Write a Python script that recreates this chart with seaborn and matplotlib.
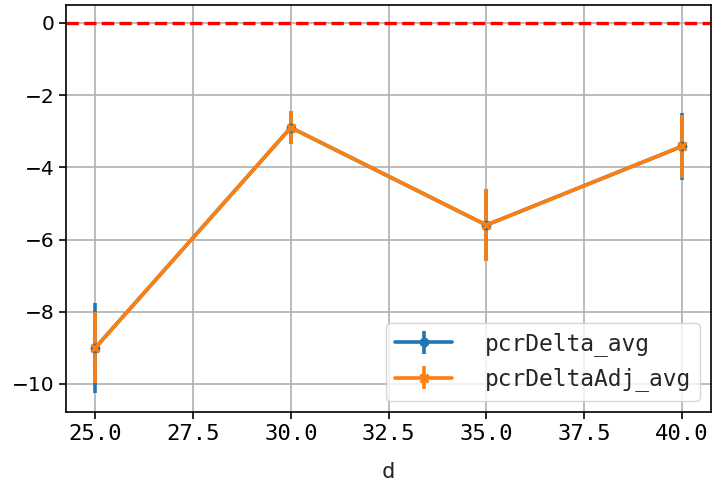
import numpy as np
import seaborn as sns
import matplotlib.pyplot as plt
import pandas as pd

d = [25, 30, 35, 40]
pcr_delta_avg = [-9.0, -2.9, -5.6, -3.42]
pcr_delta_err = [1.25, 0.45, 1.0, 0.92]
pcr_delta_adj_avg = [-9.0, -2.9, -5.6, -3.42]
pcr_delta_adj_err = [0.98, 0.45, 1.0, 0.88]

sns.set_theme(style='ticks', rc={'axes.grid': True, 'grid.color': '#b0b0b0',
                                 'axes.edgecolor': 'black', 'xtick.color': 'black',
                                 'ytick.color': 'black'})
plt.rcParams['font.family'] = ['DejaVu Sans Mono', 'DejaVu Sans']

df = pd.DataFrame({'d': d, 'pcrDelta_avg': pcr_delta_avg, 'pcrDeltaAdj_avg': pcr_delta_adj_avg})
colors = sns.color_palette('tab10')

fig, ax = plt.subplots(figsize=(7.17, 4.82), dpi=100)
fig.subplots_adjust(left=0.092, right=0.992, top=0.99, bottom=0.145)

ax.errorbar(df['d'], df['pcrDelta_avg'], yerr=pcr_delta_err, color=colors[0],
            marker='o', ms=6, lw=2.6, elinewidth=2.6, label='pcrDelta_avg')
ax.errorbar(df['d'], df['pcrDeltaAdj_avg'], yerr=pcr_delta_adj_err, color=colors[1],
            marker='x', ms=6, mew=2.2, lw=2.6, elinewidth=2.6, label='pcrDeltaAdj_avg')
ax.axhline(0, color='red', ls='--', lw=2.4)

ax.set_xlim(24.25, 40.75)
ax.set_ylim(-10.78, 0.5)
ax.set_xticks(np.arange(25, 40.1, 2.5))
ax.set_xlabel('d', fontsize=16, labelpad=13)
ax.tick_params(length=5, width=1.2)
ax.tick_params(axis='x', labelsize=16)
ax.tick_params(axis='y', labelsize=14.5)
for lab in ax.get_yticklabels():
    lab.set_family('DejaVu Sans')
ax.grid(True, lw=1.2)
for s in ax.spines.values():
    s.set_linewidth(1.2)
ax.legend(loc='lower right', fontsize=16.5, handletextpad=1.4, handlelength=2.5)

fig.savefig('out.png', dpi=100)
